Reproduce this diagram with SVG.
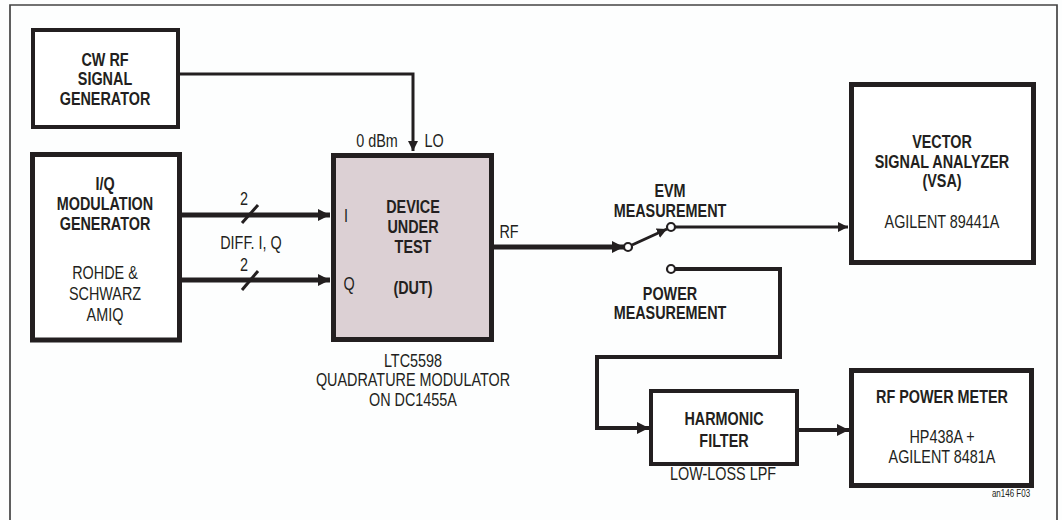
<svg xmlns="http://www.w3.org/2000/svg" width="1062" height="520" viewBox="0 0 1062 520">
<defs>
<style>
text{font-family:"Liberation Sans",Arial,sans-serif;fill:#231f20;text-anchor:middle}
.b{font-weight:bold;font-size:18px}
.r{font-size:18px}
.box{fill:#fff;stroke:#231f20}
.ln{fill:none;stroke:#231f20}
.ct{fill:#fff;stroke:#231f20;stroke-width:2.2}
</style>
<marker id="ah" markerUnits="userSpaceOnUse" markerWidth="14" markerHeight="14" refX="12" refY="6" orient="auto">
<path d="M0,0 L12,6 L0,12 z" fill="#231f20"/>
</marker>
<marker id="ahs" markerUnits="userSpaceOnUse" markerWidth="12" markerHeight="12" refX="10" refY="5" orient="auto">
<path d="M0,0 L10,5 L0,10 z" fill="#231f20"/>
</marker>
</defs>
<rect x="0" y="0" width="1062" height="520" fill="#fdfefe"/>
<path d="M10,520 V5 H1057 V520" fill="none" stroke="#444" stroke-width="1.7"/>

<g id="connectors">
<path class="ln" stroke-width="3" d="M180,74 H413 V151" marker-end="url(#ahs)"/>
<path class="ln" stroke-width="5" d="M182,215 H330" marker-end="url(#ah)"/>
<path class="ln" stroke-width="5" d="M182,280 H330" marker-end="url(#ah)"/>
<line class="ln" stroke-width="3" x1="242" y1="223" x2="258" y2="205"/>
<line class="ln" stroke-width="3" x1="242" y1="290" x2="258" y2="271"/>
<path class="ln" stroke-width="5" d="M494,247 H624" marker-end="url(#ah)"/>
<path class="ln" stroke-width="3" d="M632,245 L667,229" marker-end="url(#ahs)"/>
<path class="ln" stroke-width="3" d="M675,227 H848" marker-end="url(#ahs)"/>
<path class="ln" stroke-width="4" d="M675,269 H780 V357 H597 V428 H649" marker-end="url(#ah)"/>
<path class="ln" stroke-width="4" d="M799,430 H849" marker-end="url(#ah)"/>
<circle class="ct" cx="628" cy="247" r="4"/>
<circle class="ct" cx="671" cy="227" r="4"/>
<circle class="ct" cx="671" cy="269" r="4"/>
<g transform="scale(0.8 1)">
<text class="r" x="305" y="205">2</text>
<text class="r" x="313.75" y="249">DIFF. I, Q</text>
<text class="r" x="305" y="271">2</text>
<text class="r" x="471.25" y="147">0 dBm</text>
<text class="r" x="542.5" y="147">LO</text>
<text class="r" x="636.25" y="238">RF</text>
<text class="b" x="837.5" y="197">EVM</text>
<text class="b" x="837.5" y="217">MEASUREMENT</text>
<text class="b" x="837.5" y="300">POWER</text>
<text class="b" x="837.5" y="319">MEASUREMENT</text>
</g>
</g>

<g id="cw-rf-gen">
<rect class="box" x="33" y="30" width="145" height="97" stroke-width="4"/>
<g transform="scale(0.8 1)">
<text class="b" x="131.25" y="66">CW RF</text>
<text class="b" x="131.25" y="85.5">SIGNAL</text>
<text class="b" x="131.25" y="105">GENERATOR</text>
</g>
</g>

<g id="iq-gen">
<rect class="box" x="32.5" y="154.5" width="147" height="185.5" stroke-width="5"/>
<g transform="scale(0.8 1)">
<text class="b" x="131.25" y="190">I/Q</text>
<text class="b" x="131.25" y="210.5">MODULATION</text>
<text class="b" x="131.25" y="230">GENERATOR</text>
<text class="r" x="131.25" y="279">ROHDE &amp;</text>
<text class="r" x="131.25" y="300">SCHWARZ</text>
<text class="r" x="131.25" y="321">AMIQ</text>
</g>
</g>

<g id="dut">
<rect x="333.5" y="155.5" width="158" height="184" fill="#dcd0d4" stroke="#231f20" stroke-width="5"/>
<g transform="scale(0.8 1)">
<text class="b" x="516.25" y="213">DEVICE</text>
<text class="b" x="516.25" y="233">UNDER</text>
<text class="b" x="516.25" y="253">TEST</text>
<text class="b" x="516.25" y="294">(DUT)</text>
<text class="r" x="432.5" y="222">I</text>
<text class="r" x="436.25" y="290">Q</text>
<text class="r" x="516.25" y="367">LTC5598</text>
<text class="r" x="516.25" y="386.5">QUADRATURE MODULATOR</text>
<text class="r" x="516.25" y="406">ON DC1455A</text>
</g>
</g>

<g id="vsa">
<rect class="box" x="851.5" y="84.5" width="182" height="178" stroke-width="5"/>
<g transform="scale(0.8 1)">
<text class="b" x="1177.5" y="148">VECTOR</text>
<text class="b" x="1177.5" y="168">SIGNAL ANALYZER</text>
<text class="b" x="1177.5" y="187">(VSA)</text>
<text class="r" x="1177.5" y="228">AGILENT 89441A</text>
</g>
</g>

<g id="harmonic-filter">
<rect class="box" x="651" y="391" width="146" height="73" stroke-width="4"/>
<g transform="scale(0.8 1)">
<text class="b" x="905" y="425">HARMONIC</text>
<text class="b" x="905" y="447">FILTER</text>
<text class="r" x="903.75" y="480">LOW-LOSS LPF</text>
</g>
</g>

<g id="rf-power-meter">
<rect class="box" x="851.5" y="370.5" width="180" height="115" stroke-width="5"/>
<g transform="scale(0.8 1)">
<text class="b" x="1177.5" y="403">RF POWER METER</text>
<text class="r" x="1177.5" y="443">HP438A +</text>
<text class="r" x="1177.5" y="463">AGILENT 8481A</text>
</g>
</g>

<g transform="scale(0.8 1)">
<text x="1263.75" y="497" style="font-size:10px">an146 F03</text>
</g>
</svg>
